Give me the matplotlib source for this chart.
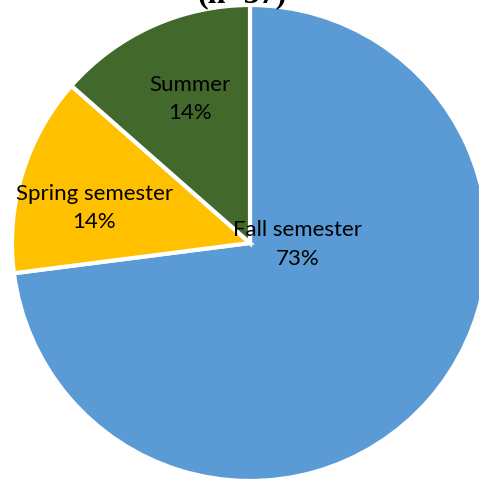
import numpy as np
import matplotlib
matplotlib.use('Agg')
import matplotlib.pyplot as plt

# data (n=37)
categories = ['Fall semester', 'Spring semester', 'Summer']
counts = [27, 5, 5]
colors = ['#5B9BD5', '#FFC000', '#43682B']
title = '(n=37)'

fig = plt.figure(figsize=(4.79, 4.83), dpi=100)
ax = fig.add_axes([0, 0, 1, 1])

wedges, _ = ax.pie(counts, colors=colors, startangle=90, counterclock=False,
                   radius=1.0, wedgeprops=dict(edgecolor='white', linewidth=3))

# pie centre at about (250, 243) px, radius ~238 px
r_px = 238.0
ax.set_xlim(-250 / r_px, (479 - 250) / r_px)
ax.set_ylim(-(483 - 243) / r_px, 243 / r_px)
ax.set_aspect('auto')
ax.axis('off')

# label anchors (Excel-style placement, in pie radius units)
label_pos = [(0.2, -0.005), (-0.655, 0.147), (-0.252, 0.605)]

total = sum(counts)
for i, name in enumerate(categories):
    pct = f'{counts[i] / total * 100:.0f}%'
    x, y = label_pos[i]
    ax.text(x, y, f'{name}\n{pct}', ha='center', va='center',
            fontsize=16, family='Lato', linespacing=1.55)

# title is mostly cut off at the top edge
fig.text(0.505, 1 - 2 / 483, title, ha='center', va='baseline',
         fontsize=23, fontweight='bold', family='Liberation Serif')

fig.savefig('out.png', dpi=100)
